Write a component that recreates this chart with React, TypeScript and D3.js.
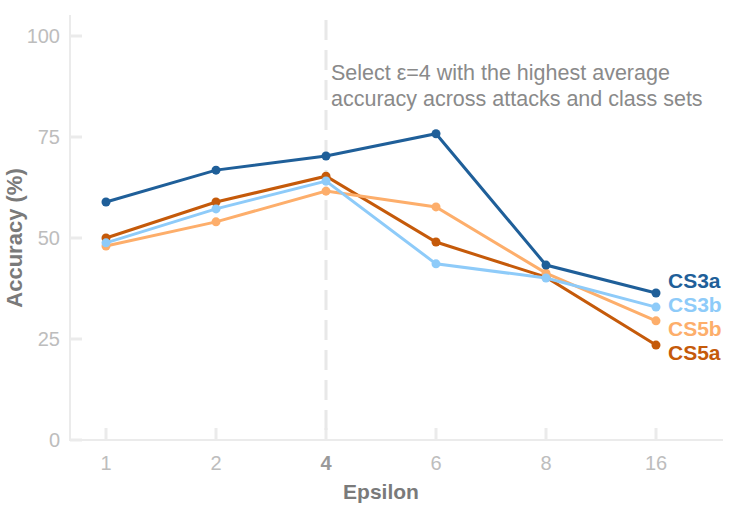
import React from "react";
import * as d3 from "d3";

const categories = ["1", "2", "4", "6", "8", "16"];
const yTicks = [0, 25, 50, 75, 100];
const seriesNames = ["CS3a", "CS3b", "CS5b", "CS5a"];
const cs3a = [58.9, 66.8, 70.3, 75.8, 43.3, 36.4];
const cs3b = [48.8, 57.2, 64.1, 43.6, 40.1, 32.9];
const cs5b = [48.0, 54.0, 61.6, 57.7, 41.3, 29.5];
const cs5a = [50.0, 58.9, 65.3, 49.0, 40.3, 23.5];
const seriesValues = [cs3a, cs3b, cs5b, cs5a];
const colors = ["#1f5f99", "#8ecbf9", "#fdae6b", "#c55a0a"];
const highlight = "4";
const annotation = ["Select ε=4 with the highest average", "accuracy across attacks and class sets"];

const W = 747;
const H = 515;
const FONT = "'Liberation Sans', Arial, sans-serif";

export default function App() {
  const x = d3.scalePoint<string>().domain(categories).range([106, 656]);
  const y = d3.scaleLinear().domain([0, 100]).range([440, 36]);
  const line = d3
    .line<number>()
    .x((_, i) => x(categories[i]) as number)
    .y((d) => y(d));

  const last = seriesValues.map((s, i) => ({ i, py: y(s[s.length - 1]) }));
  const sorted = [...last].sort((a, b) => a.py - b.py);
  const gap = 24;
  const meanY = d3.mean(sorted, (d) => d.py) as number;
  const labelY: number[] = [];
  sorted.forEach((d, k) => {
    labelY[d.i] = meanY + (k - (sorted.length - 1) / 2) * gap;
  });

  const hx = x(highlight) as number;

  return (
    <svg
      width={W}
      height={H}
      style={{ position: "absolute", left: 0, top: 0, background: "#fff" }}
      fontFamily={FONT}
    >
      <line x1={70} x2={70} y1={15} y2={441} stroke="#ebebeb" strokeWidth={2} />
      <line x1={69} x2={723} y1={440} y2={440} stroke="#ebebeb" strokeWidth={2} />
      {yTicks.map((t) => (
        <g key={t}>
          <line x1={70} x2={82} y1={y(t)} y2={y(t)} stroke="#ebebeb" strokeWidth={3} />
          <text x={60} y={y(t)} dy="0.36em" textAnchor="end" fontSize={20} fill="#bdbdbd">
            {t}
          </text>
        </g>
      ))}
      {categories.map((c) => (
        <g key={c}>
          <line x1={x(c)} x2={x(c)} y1={440} y2={428} stroke="#ebebeb" strokeWidth={3} />
          <text
            x={x(c)}
            y={470}
            textAnchor="middle"
            fontSize={20}
            fill={c === highlight ? "#9a9a9a" : "#bdbdbd"}
            fontWeight={c === highlight ? "bold" : "normal"}
          >
            {c}
          </text>
        </g>
      ))}
      <text x={381} y={499} textAnchor="middle" fontSize={21} fontWeight="bold" fill="#7a7a7a">
        Epsilon
      </text>
      <text
        transform={`translate(22,238) rotate(-90)`}
        textAnchor="middle"
        fontSize={22}
        fontWeight="bold"
        fill="#7a7a7a"
      >
        Accuracy (%)
      </text>

      <line x1={hx} x2={hx} y1={20} y2={440} stroke="#e8e8e8" strokeWidth={3} strokeDasharray="20 10" />
      {annotation.map((t, i) => (
        <text key={i} x={331} y={80 + i * 26} fontSize={21.5} fill="#8a8a8a">
          {t}
        </text>
      ))}

      {seriesValues
        .map((s, i) => ({ s, i }))
        .reverse()
        .map(({ s, i }) => (
          <g key={seriesNames[i]}>
            <path d={line(s) as string} fill="none" stroke={colors[i]} strokeWidth={3} />
            {s.map((v, j) => (
              <circle key={j} cx={x(categories[j])} cy={y(v)} r={4.5} fill={colors[i]} />
            ))}
          </g>
        ))}
      {seriesNames.map((n, i) => (
        <text key={n} x={668} y={labelY[i]} dy="0.35em" fontSize={21} fontWeight="bold" fill={colors[i]}>
          {n}
        </text>
      ))}
    </svg>
  );
}
